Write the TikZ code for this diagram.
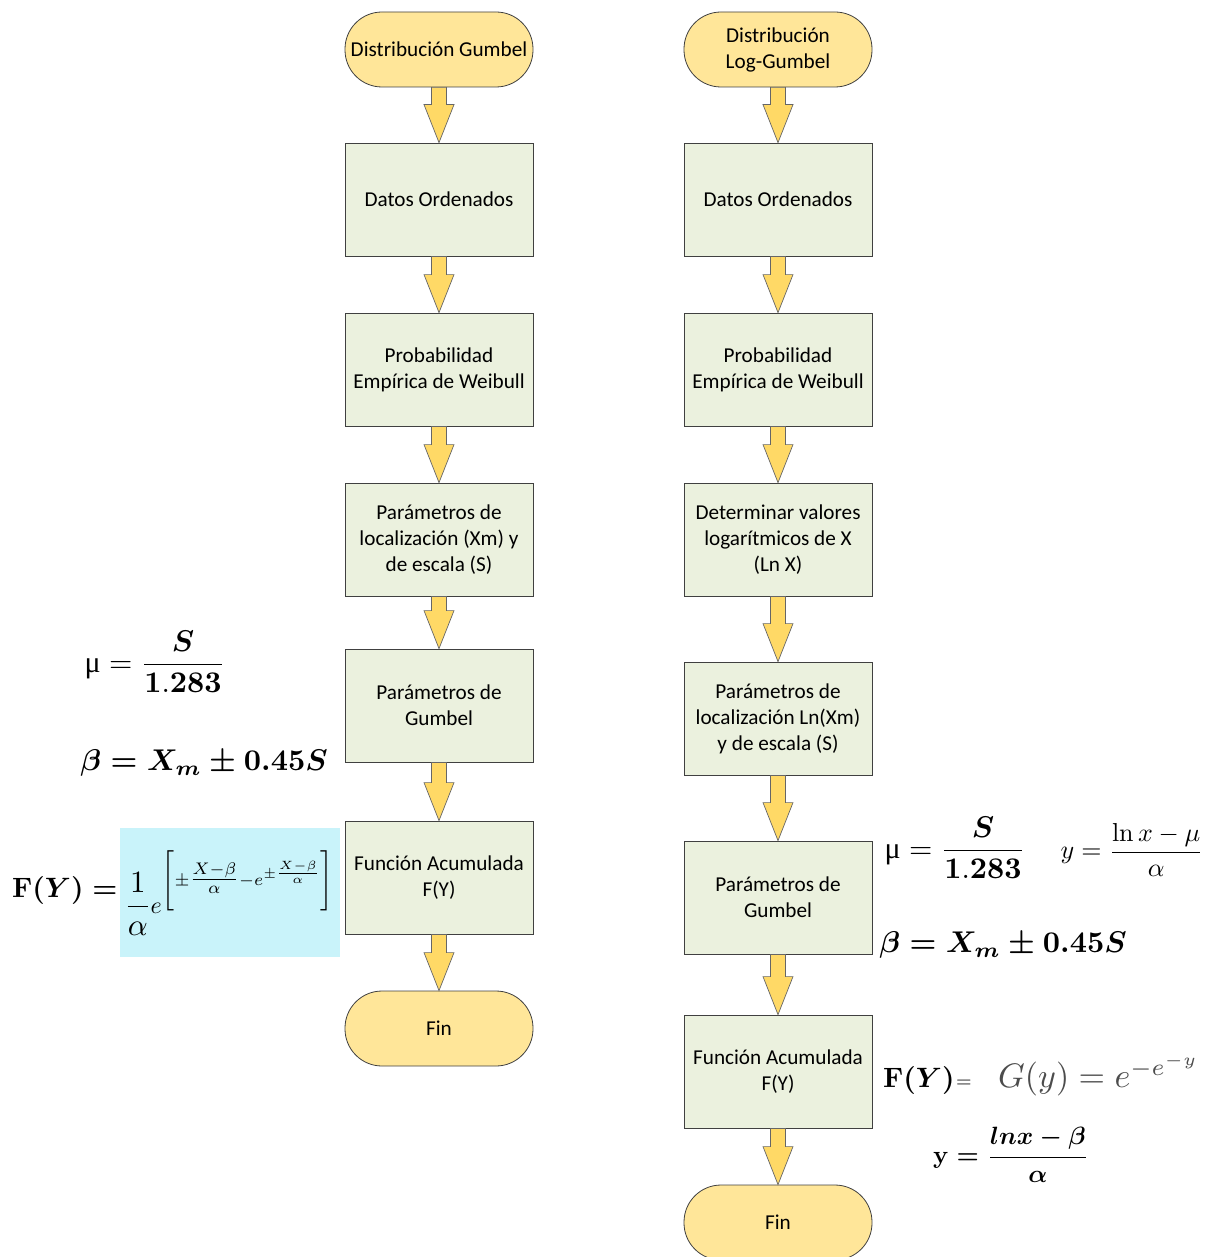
\documentclass[tikz,border=0pt]{standalone}
\usepackage{amsmath,bm,graphicx}
\usepackage[no-math]{fontspec}
\setmainfont{Carlito}
\newfontfamily\timesf{Liberation Serif}
\usetikzlibrary{calc}
\definecolor{termfill}{HTML}{FFE699}
\definecolor{procfill}{HTML}{EBF1DE}
\definecolor{arrowfill}{HTML}{FFD966}
\definecolor{cyanbg}{HTML}{C9F3FA}
\newcommand\flowfont{\fontsize{21.2}{26}\selectfont}
\tikzset{
  term/.style={draw=black!75, fill=termfill, rounded corners=37pt, minimum width=188pt, minimum height=75pt, align=center, font=\flowfont, inner sep=0pt, line width=0.8pt},
  proc/.style={draw=black!75, fill=procfill, minimum width=188pt, minimum height=113pt, align=center, font=\flowfont, inner sep=0pt, line width=0.8pt},
  barrow/.style={draw=black!60, fill=arrowfill, line width=0.7pt, line join=miter},
  formula/.style={inner sep=0pt, font=\fontsize{10}{12}\selectfont}
}
\newcommand\blockarrow[2]{\draw[barrow] let \p1=(#1.south), \p2=(#2.north) in
  (\x1-7.5pt,\y1) -- (\x1-7.5pt,\y2+38pt) -- (\x1-15pt,\y2+38pt) -- (\x2,\y2) --
  (\x1+15pt,\y2+38pt) -- (\x1+7.5pt,\y2+38pt) -- (\x1+7.5pt,\y1) -- cycle;}
\begin{document}
\begin{tikzpicture}[x=1pt,y=-1pt]
\useasboundingbox (0,0) rectangle (1210,1257);
% left column
\node[term] (ls) at (439,49.5) {Distribución Gumbel};
\node[proc] (l1) at (439,199.5) {Datos Ordenados};
\node[proc] (l2) at (439,369.5) {Probabilidad\\Empírica de Weibull};
\node[proc] (l3) at (439,539.5) {Parámetros de\\localización (Xm) y\\de escala (S)};
\node[proc] (l4) at (439,705.5) {Parámetros de\\Gumbel};
\node[proc] (l5) at (439,877.5) {Función Acumulada\\F(Y)};
\node[term] (lf) at (439,1028.5) {Fin};
% right column
\node[term] (rs) at (778,49.5) {Distribución\\Log-Gumbel};
\node[proc] (r1) at (778,199.5) {Datos Ordenados};
\node[proc] (r2) at (778,369.5) {Probabilidad\\Empírica de Weibull};
\node[proc] (r3) at (778,539.5) {Determinar valores\\logarítmicos de X\\(Ln X)};
\node[proc] (r4) at (778,718.5) {Parámetros de\\localización Ln(Xm)\\y de escala (S)};
\node[proc] (r5) at (778,897.5) {Parámetros de\\Gumbel};
\node[proc] (r6) at (778,1071.5) {Función Acumulada\\F(Y)};
\node[term] (rf) at (778,1222.5) {Fin};
% arrows
\blockarrow{ls}{l1}
\blockarrow{l1}{l2}
\blockarrow{l2}{l3}
\blockarrow{l3}{l4}
\blockarrow{l4}{l5}
\blockarrow{l5}{lf}
\blockarrow{rs}{r1}
\blockarrow{r1}{r2}
\blockarrow{r2}{r3}
\blockarrow{r3}{r4}
\blockarrow{r4}{r5}
\blockarrow{r5}{r6}
\blockarrow{r6}{rf}
% left formulas
\node[formula] (lmu) at (155,662) {\scalebox{3}{$\text{\timesf μ} = \dfrac{\bm{S}}{\mathbf{1.283}}$}};
\node[formula] (lbeta) at (204,763) {\scalebox{3}{\boldmath$\beta = X_m \pm 0.45S$}};
\fill[cyanbg] (120,828) rectangle (340,957);
\node[formula,anchor=west] (lfy) at (12,890) {\scalebox{2.8}{\boldmath$\mathbf{F}(Y) =$}};
\node[formula,anchor=west] (lexp) at (124,893) {\scalebox{3.1}{$\dfrac{1}{\alpha}$}\hspace{-1pt}\scalebox{2.4}{$e^{\left[\vphantom{\dfrac{X}{\alpha}}\pm\genfrac{}{}{}{1}{X-\beta}{\alpha}-e^{\pm\genfrac{}{}{}{2}{X-\beta}{\alpha}}\right]}$}};
% right formulas
\node[formula] (rmu) at (955,848) {\scalebox{3}{$\text{\timesf μ} = \dfrac{\bm{S}}{\mathbf{1.283}}$}};
\node[formula] (ry) at (1132,850) {\scalebox{2.6}{$y = \dfrac{\ln x - \mu}{\alpha}$}};
\node[formula] (rbeta) at (1003,945) {\scalebox{3}{\boldmath$\beta = X_m \pm 0.45S$}};
\node[formula,anchor=west] (rfy) at (883,1080) {\scalebox{2.8}{\boldmath$\mathbf{F}(Y)$}\,\scalebox{2}{$=$}};
\node[formula,anchor=west,text=black!70] (rg) at (998,1075) {\scalebox{3.4}{$G(y) = e^{-e^{-y}}$}};
\node[formula] (ry2) at (1011,1155) {\scalebox{2.5}{\boldmath$\mathbf{y} = \dfrac{lnx-\beta}{\alpha}$}};
\end{tikzpicture}
\end{document}
